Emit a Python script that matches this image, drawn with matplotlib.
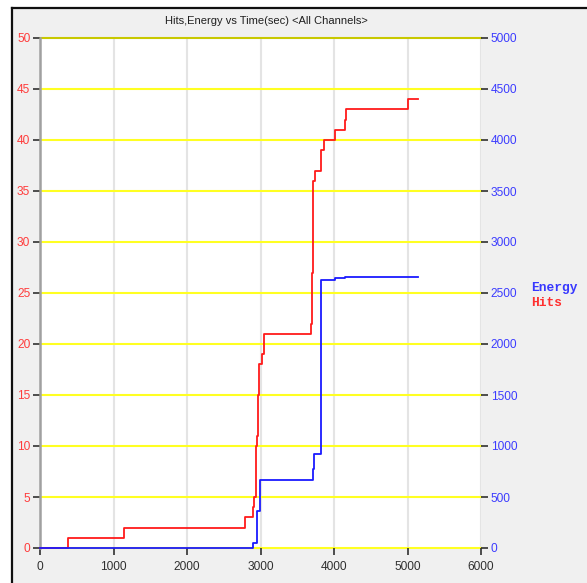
import matplotlib
matplotlib.use("Agg")
import matplotlib.pyplot as plt
from matplotlib.patches import Rectangle
from matplotlib.lines import Line2D

# Cumulative hits over time (seconds)
hits_time = [0, 385, 1147, 2789, 2902, 2916, 2935, 2942, 2948, 2972, 2983, 3015, 3045,
             3683, 3695, 3705, 3719, 3741, 3823, 3868, 4014, 4150, 4165, 5005, 5138]
hits = [0, 1, 2, 3, 4, 5, 7, 10, 11, 15, 18, 19, 21,
        22, 23, 27, 36, 37, 39, 40, 41, 42, 43, 44, 44]

# Cumulative energy over time (seconds)
energy_time = [0, 2902, 2958, 2990, 3709, 3727, 3827, 4014, 4150, 5138]
energy = [0, 52, 366, 670, 775, 921, 2627, 2644, 2660, 2660]

x_ticks = [0, 1000, 2000, 3000, 4000, 5000, 6000]
hits_ticks = list(range(0, 51, 5))
energy_ticks = list(range(0, 5001, 500))

title = "Hits,Energy vs Time(sec) <All Channels>"
legend_labels = ["Energy", "Hits"]

W, H = 587, 583
fig = plt.figure(figsize=(W / 100, H / 100), dpi=100)
fig.patch.set_facecolor("white")

def fx(px):
    return px / W

def fy(py):
    return 1 - py / H

# Window panel with dark top/left border
fig.patches.append(Rectangle((fx(12), 0), 1 - fx(12), fy(8), transform=fig.transFigure,
                             facecolor="#f0f0f0", edgecolor="none", zorder=-10))
fig.lines.append(Line2D([fx(12), 1], [fy(7.5), fy(7.5)], transform=fig.transFigure,
                        color="#101010", lw=1.6, zorder=-5))
fig.lines.append(Line2D([fx(12), fx(12)], [0, fy(7.5)], transform=fig.transFigure,
                        color="#101010", lw=1.6, zorder=-5))

left, right, top, bottom = 40, 481, 38, 548
ax = fig.add_axes([fx(left), fy(bottom), fx(right) - fx(left), fy(top) - fy(bottom)])
ax.set_facecolor("white")
ax2 = ax.twinx()

ax.set_xlim(0, 6000)
ax.set_ylim(0, 50)
ax2.set_ylim(0, 5000)

# Grid: light grey verticals, yellow horizontals
for xv in x_ticks[1:]:
    ax.axvline(xv, color="#e4e4e4", lw=1.5, zorder=1)
for yv in hits_ticks:
    c = "#c8c800" if yv == 50 else "#ffff22"
    ax.axhline(yv, color=c, lw=1.5, zorder=1.5, clip_on=False)

ax.step(hits_time, hits, where="post", color="#ff1a1a", lw=1.3, zorder=3, clip_on=False)
ax2.step(energy_time, energy, where="post", color="#1a1aff", lw=1.3, zorder=3, clip_on=False)

for a in (ax, ax2):
    for s in a.spines.values():
        s.set_visible(False)
ax.spines["left"].set_visible(True)
ax.spines["left"].set_color("#a0a0a0")
ax.spines["left"].set_linewidth(1.8)
ax.spines["left"].set_zorder(2)

ax.set_xticks(x_ticks)
ax.set_yticks(hits_ticks)
ax2.set_yticks(energy_ticks)

ax.tick_params(axis="x", length=5, width=1.2, color="#303030", pad=4,
               labelsize=8.6, labelcolor="#303030")
ax.tick_params(axis="y", length=5, width=1.2, color="#303030", pad=2,
               labelsize=8.6, labelcolor="#ff3c3c")
ax2.tick_params(axis="y", length=5, width=1.2, color="#303030", pad=2,
                labelsize=8.6, labelcolor="#3c3cff")
for lab in ax.get_xticklabels() + ax.get_yticklabels() + ax2.get_yticklabels():
    lab.set_family("Liberation Sans")

fig.text(fx(266), fy(21), title, ha="center", va="center", fontsize=8,
         family="Liberation Sans", color="#202020")

fig.text(fx(531), fy(288.5), legend_labels[0], ha="left", va="center", fontsize=9.3,
         family="Liberation Mono", weight="bold", color="#3838ff")
fig.text(fx(531), fy(302.5), legend_labels[1], ha="left", va="center", fontsize=9.3,
         family="Liberation Mono", weight="bold", color="#ff3030")

fig.savefig("out.png", dpi=100)
